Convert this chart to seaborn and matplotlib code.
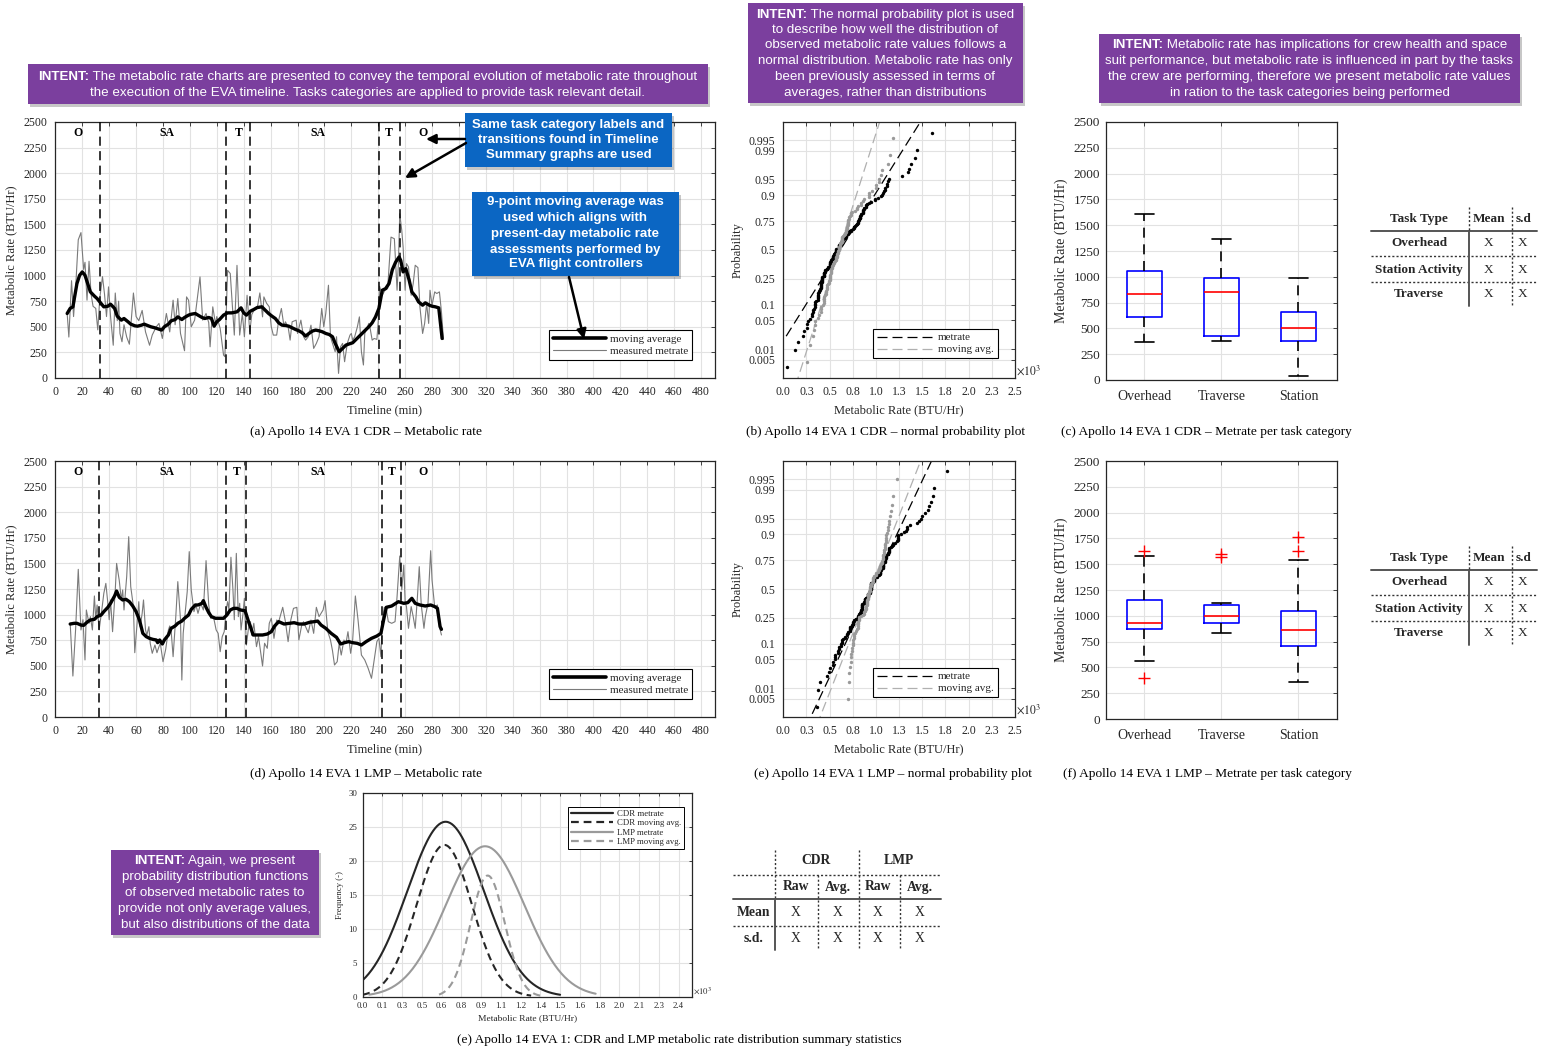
import numpy as np
import pandas as pd
import matplotlib
matplotlib.use("Agg")
import matplotlib.pyplot as plt
import seaborn as sns
from statistics import NormalDist
from matplotlib.patches import Rectangle
from matplotlib.lines import Line2D

# ---------------------------------------------------------------- data
cdr_raw = [(8.75,630),(10,400),(12,950),(13.5,600),(15,870),(17,1350),(19,1420),(21,1060),(22,1130),
           (23.5,760),(25,1140),(26.5,820),(28,700),(30,680),(31.5,470),(33,780),(35,990),(36.5,820),
           (38,600),(39.5,890),(41,600),(43,320),(44.5,830),(46,560),(47,750),(48,435),(49.5,354),
           (51,520),(53,400),(55,330),(58,830),(60,600),(62,560),(64.5,660),(67,450),(70,320),(72,420),
           (75,500),(77,533),(79.5,386),(82.5,630),(85,450),(87.5,760),(89,520),(91,776),(93,435),
           (96,266),(97.5,792),(99,760),(101,500),(103.5,565),(107.5,987),(109.5,565),(112,630),
           (114,540),(115,305),(117,695),(119,530),(120,600),(122.5,484),(125,224),(126,208),(128,1052),
           (130,1020),(132,630),(133,419),(135,1100),(137,419),(139,630),(140.5,403),(142.5,808),
           (144.5,451),(146,620),(148,670),(150,679),(152,831),(154,597),(155,792),(157,730),(159,695),
           (160.5,500),(162,419),(164.5,419),(166,565),(168,679),(170,500),(171,549),(173,500),
           (174.5,370),(176,549),(179,565),(180,435),(182.5,565),(184.5,403),(186,370),(188,403),
           (190,516),(192,289),(194,338),(196,403),(198,679),(199.5,500),(201,630),(203,906),(204.5,403),
           (206,338),(208,256),(209,403),(210.5,45),(212,305),(213.5,338),(215,159),(217,338),(219,419),
           (220,435),(221,370),(222.5,403),(224.5,500),(226,597),(227.5,256),(229,127),(230,435),
           (231,468),(233,533),(234,484),(235.5,370),(237,386),(239,377),(240,549),(241,896),(243,808),
           (245,857),(247,873),(249.5,1376),(252,1360),(254,857),(255,1117),(256,1604),(257.5,1441),
           (258.5,1279),(260,857),(261,1117),(262.5,1085),(264.5,808),(266,922),(267.5,1101),
           (269.5,1078),(271,695),(273,435),(274.5,533),(276,727),(277.5,533),(278.5,857),(280,711),
           (282,841),(283.5,825),(285.5,841),(287,646),(288.5,377)]
cdr_avg = [(8.75,630),(11,680),(13,695),(14.5,808),(16,922),(18,1003),(20,1036),(22,1003),(24,922),
           (26,841),(29,800),(31,776),(34,727),(36,695),(39,701),(41,721),(44,680),(46,604),(49,565),
           (51,581),(54,549),(56,526),(59,510),(61,506),(64,516),(66,526),(69,510),(71,500),(74,490),
           (76,481),(79,468),(81,500),(84,526),(86,558),(89,571),(91,597),(94,571),(96,591),(99,614),
           (101,623),(104,630),(106,614),(109,591),(111,581),(114,591),(116,581),(118,506),(120,549),
           (122,571),(125,614),(128,636),(131,636),(135,646),(138,685),(140,636),(142,614),(145,653),
           (147.5,669),(150,688),(153.5,695),(156,662),(158.5,630),(161,604),(163.5,581),(166,539),
           (168.5,516),(171,513),(173.5,506),(176,490),(178.5,474),(181,461),(183.5,442),(186,409),
           (188.5,435),(191,458),(193.5,468),(196,461),(198.5,451),(201,435),(203.5,425),(206,403),
           (208,338),(211,256),(213.5,289),(216,321),(218,331),(221,344),(223,370),(226,409),(228,435),
           (230.5,468),(233,500),(235.5,539),(238,597),(240.5,679),(243,857),(245.5,873),(248,922),
           (250.5,1058),(253,1133),(255.5,1182),(256.7,1149),(258.5,1036),(260.5,1068),(263,955),
           (265,841),(268,792),(270,743),(273,711),(275,734),(278,711),(280,701),(282.5,695),(285,685),
           (287.5,386)]
lmp_raw = [(11,915),(13,400),(15,850),(17,1442),(19,850),(20.5,950),(22,557),(23,1045),(25,915),(26,980),
           (27.5,850),(29,1182),(30,950),(31,1094),(32.5,850),(34.5,1045),(36,1208),(37.5,1305),(39,1110),
           (40,950),(41,1143),(42.5,833),(44.5,1240),(45.5,1500),(47.5,1331),(49,1143),(50,1240),(51,1045),
           (53,1370),(54.5,1761),(56,1273),(58,1078),(59,628),(60.5,882),(62,1126),(63,882),(64.5,1012),
           (65.5,1143),(67,850),(68,801),(69.5,882),(70.5,719),(72,622),(74,703),(75.5,628),(77,687),
           (78,719),(80,540),(82,661),(84,850),(85,889),(86,850),(87.5,589),(89.5,980),(91,1322),(93,950),
           (94,361),(95,817),(96,950),(98,1224),(99.5,1615),(101,1240),(103,1029),(104.5,1094),(106,1012),
           (108,1110),(110,1045),(112,1527),(114,1094),(115.5,964),(117.5,980),(119.5,850),(121,817),
           (122.5,638),(124,784),(125.5,833),(127,1045),(128,1126),(129,1051),(130.5,1560),(132,1240),
           (133,950),(134.5,1598),(136,980),(137,1110),(138,850),(139.5,1012),(140.5,1159),(142,703),
           (144,915),(145,931),(146,801),(147.5,915),(149.5,687),(151,785),(154,498),(155.5,720),
           (157.5,671),(159,915),(160.5,964),(162.5,768),(164.5,947),(166,931),(169,1071),(171,931),
           (173,736),(175,947),(177,1061),(179.5,1071),(181,752),(183,889),(184.5,931),(186,882),(188,823),
           (190,947),(192,817),(194,1071),(196,980),(199,1045),(200.5,1136),(202.5,833),(204.5,752),
           (206,648),(207.5,508),(209.5,540),(211,719),(212.5,605),(214.5,752),(216,719),(217.5,833),
           (219.5,622),(221,752),(223,1182),(225,947),(227.5,605),(230,557),(232.5,476),(235,378),
           (237,557),(239,736),(240.5,768),(242,589),(243,947),(244.5,1071),(246,1051),(247.5,931),
           (250,915),(252.5,931),(254,1175),(256,1572),(257.5,1240),(259,1484),(260,1126),(261,1078),
           (262.5,866),(264.5,1078),(266,980),(267.5,866),(269,1143),(270.5,1468),(272,1094),(274,866),
           (275,980),(277,1110),(279,1624),(280,1338),(282,1071),(284,1094),(285.5,882),(287,801)]
lmp_avg = [(11,908),(14,915),(16,915),(19,898),(21,895),(24,931),(26,947),(29,954),(31,980),(34,996),
           (36,1029),(39,1071),(41,1110),(44,1182),(45.5,1230),(47.5,1169),(50,1143),(52.5,1149),
           (55,1126),(57.5,1084),(60,1029),(62.5,947),(65,817),(67.5,785),(70,768),(72.5,758),(75,752),
           (76,726),(77.5,752),(79.5,713),(81,752),(84,801),(86,866),(89,889),(91,915),(94,937),(96,964),
           (99,996),(101,1051),(104,1094),(106,1094),(109,1110),(110,1136),(112,1071),(114,1019),
           (116,980),(119,964),(121,964),(125,964),(127.5,996),(130,1045),(132.5,1061),(135,1061),
           (137.5,1045),(141,1038),(144,915),(145,882),(147,801),(150,801),(154,801),(157.5,810),
           (160.5,833),(163,889),(166,931),(170,908),(174,915),(177.5,921),(181,908),(185,908),(189,925),
           (192.5,931),(195,937),(197.5,898),(201,866),(205,817),(209,778),(212,713),(215,726),(218,736),
           (221,726),(224.5,719),(227.5,703),(231,736),(235,768),(239,791),(242,817),(244,947),(246,1071),
           (250,1084),(255,1126),(259,1110),(262,1117),(265,1159),(267.5,1110),(271,1094),(275,1084),
           (279,1094),(282,1078),(284,1061),(286,882),(287,856)]

cdr_bounds = [33, 127, 145, 240.5, 256.5]
lmp_bounds = [32.2, 126.8, 141.6, 243, 256.8]
phase_labels = ["O", "SA", "T", "SA", "T", "O"]
cdr_phase_x = [17, 83, 136.5, 195.5, 248, 273]
lmp_phase_x = [16.7, 83, 134.5, 195.5, 250, 273]

npp_probs = [0.005, 0.01, 0.05, 0.1, 0.25, 0.5, 0.75, 0.9, 0.95, 0.99, 0.995]
npp_xlabels = ["0.0", "0.3", "0.5", "0.8", "1.0", "1.3", "1.5", "1.8", "2.0", "2.3", "2.5"]

box_categories = ["Overhead", "Traverse", "Station"]
cdr_whislo = [365, 374, 39]
cdr_q1 = [613, 423, 377]
cdr_med = [835, 848, 503]
cdr_q3 = [1055, 987, 658]
cdr_whishi = [1610, 1368, 984]
cdr_fliers = [[], [], []]
lmp_whislo = [561, 832, 355]
lmp_q1 = [868, 932, 706]
lmp_med = [929, 1000, 861]
lmp_q3 = [1155, 1100, 1042]
lmp_whishi = [1580, 1126, 1539]
lmp_fliers = [[1632, 394], [1600, 1571], [1768, 1632]]

task_rows = ["Overhead", "Station Activity", "Traverse"]
task_cols = ["Task Type", "Mean", "s.d"]

dist_names = ["CDR metrate", "CDR moving avg.", "LMP metrate", "LMP moving avg."]
dist_mean = [0.63, 0.62, 0.93, 0.95]
dist_sd = [0.29, 0.21, 0.30, 0.13]
dist_peak = [25.7, 22.3, 22.1, 17.8]
dist_lo = [0.0, 0.0, 0.05, 0.58]
dist_hi = [1.50, 1.28, 1.77, 1.35]
dist_colors = ["#262626", "#262626", "#9a9a9a", "#9a9a9a"]
dist_dashed = [False, True, False, True]
dist_xlabels = ["0.0", "0.1", "0.3", "0.5", "0.6", "0.8", "0.9", "1.1", "1.2", "1.4", "1.5",
                "1.6", "1.8", "2.0", "2.1", "2.3", "2.4"]

# ---------------------------------------------------------------- setup
W, H = 1541, 1050
sns.set_theme(style="white")
plt.rcParams['font.family'] = ['Liberation Serif', 'DejaVu Serif']
plt.rcParams['mathtext.fontset'] = 'stix'
plt.rcParams['axes.unicode_minus'] = False
TXT = '#262626'
fig = plt.figure(figsize=(W / 100, H / 100), dpi=100)
fig.patch.set_facecolor('white')


def ax_px(x0, y0, x1, y1):
    return fig.add_axes([x0 / W, 1 - y1 / H, (x1 - x0) / W, (y1 - y0) / H])


def style_axes(ax, labelsize=8, pad=5):
    ax.tick_params(direction='in', top=True, right=True, length=3, width=0.6,
                   labelsize=labelsize, colors=TXT, pad=pad)
    for s in ax.spines.values():
        s.set_visible(True)
        s.set_color(TXT)
        s.set_linewidth(0.9)
    ax.grid(True, color='#e2e2e2', lw=0.8)
    ax.set_axisbelow(True)


def draw_timeline(ax, raw, avg, bounds, phase_x):
    rt, rv = zip(*raw)
    mt, mv = zip(*avg)
    sns.lineplot(x=list(rt), y=list(rv), ax=ax, color='#7a7a7a', lw=0.8, sort=False, estimator=None)
    sns.lineplot(x=list(mt), y=list(mv), ax=ax, color='black', lw=2.4, sort=False, estimator=None)
    for b in bounds:
        ax.axvline(b, color='black', lw=1.1, ls=(0, (6, 3.5)), zorder=3)
    for x, lab in zip(phase_x, phase_labels):
        ax.text(x, 2390, lab, ha='center', va='center', fontsize=8.5, fontweight='bold', color='black')
    ax.set_xlim(0, 490)
    ax.set_ylim(0, 2500)
    ax.set_xticks(range(0, 481, 20))
    ax.set_yticks(range(0, 2501, 250))
    style_axes(ax, labelsize=8.5, pad=6)
    ax.set_xlabel('Timeline (min)', fontsize=9, color=TXT, labelpad=4)
    ax.set_ylabel('Metabolic Rate (BTU/Hr)', fontsize=9, color=TXT, labelpad=4)
    handles = [Line2D([], [], color='black', lw=2.6), Line2D([], [], color='#7a7a7a', lw=0.8)]
    leg = ax.legend(handles, ['moving average', 'measured metrate'], loc='lower right',
                    bbox_to_anchor=(0.975, 0.05), fontsize=8, frameon=True, fancybox=False,
                    edgecolor='black', framealpha=1, handlelength=4.8, borderpad=0.35,
                    labelspacing=0.2, handletextpad=0.4)
    leg.get_frame().set_linewidth(0.8)


ND = NormalDist()


def draw_normplot(ax, raw, avg):
    for data, col, lcol in [(raw, 'black', 'black'), (avg, '#9a9a9a', '#b0b0b0')]:
        vals = np.sort(np.array([v for _, v in data], float))
        n = len(vals)
        z = np.array([ND.inv_cdf((i + 0.5) / n) for i in range(n)])
        sns.scatterplot(x=vals, y=z, ax=ax, color=col, s=6, linewidth=0, zorder=3)
        q1, q3 = np.percentile(vals, [25, 75])
        slope = (ND.inv_cdf(.75) - ND.inv_cdf(.25)) / (q3 - q1)
        xs = np.array([-1000., 3500.])
        ax.plot(xs, ND.inv_cdf(.25) + slope * (xs - q1), color=lcol, lw=0.9, ls=(0, (8, 4)), zorder=2)
    ax.set_xlim(0, 2500)
    ax.set_ylim(-3, 3)
    ax.set_xticks(np.arange(0, 2501, 250))
    ax.set_xticklabels(npp_xlabels)
    ax.set_yticks([ND.inv_cdf(p) for p in npp_probs])
    ax.set_yticklabels([f'{p:g}' for p in npp_probs])
    style_axes(ax, labelsize=8.5, pad=6)
    ax.set_xlabel('Metabolic Rate (BTU/Hr)', fontsize=9, color=TXT, labelpad=4)
    ax.set_ylabel('Probability', fontsize=9, color=TXT, labelpad=3)
    ax.text(1.005, 0.03, r'$\times10^3$', transform=ax.transAxes, fontsize=8.5, color=TXT,
            ha='left', va='center')
    handles = [Line2D([], [], color='black', lw=0.9, ls=(0, (8, 4))),
               Line2D([], [], color='#b0b0b0', lw=0.9, ls=(0, (8, 4)))]
    leg = ax.legend(handles, ['metrate', 'moving avg.'], loc='lower right',
                    bbox_to_anchor=(0.95, 0.055), fontsize=8, frameon=True, fancybox=False,
                    edgecolor='black', framealpha=1, handlelength=5.0, borderpad=0.35,
                    labelspacing=0.2, handletextpad=0.5)
    leg.get_frame().set_linewidth(0.8)


def draw_box(ax, whislo, q1, med, q3, whishi, fliers):
    stats = [dict(whislo=a, q1=b, med=c, q3=d, whishi=e, fliers=f, label=l)
             for a, b, c, d, e, f, l in zip(whislo, q1, med, q3, whishi, fliers, box_categories)]
    ax.bxp(stats, positions=[1, 2, 3], widths=0.45, capwidths=0.25,
           boxprops=dict(color='blue', lw=1.2),
           medianprops=dict(color='red', lw=1.2),
           whiskerprops=dict(color='black', lw=1.2, ls=(0, (6, 4))),
           capprops=dict(color='black', lw=1.2),
           flierprops=dict(marker='+', markeredgecolor='red', markersize=8, markeredgewidth=1.0,
                           linestyle='none'))
    ax.set_xlim(0.5, 3.5)
    ax.set_ylim(0, 2500)
    ax.set_yticks(range(0, 2501, 250))
    style_axes(ax, labelsize=9.5, pad=4)
    ax.tick_params(axis='x', labelsize=10, pad=7)
    ax.set_ylabel('Metabolic Rate (BTU/Hr)', fontsize=10, color=TXT, labelpad=4)


def draw_dist(ax):
    for name, m, sd, pk, lo, hi, col, dsh in zip(dist_names, dist_mean, dist_sd, dist_peak,
                                                  dist_lo, dist_hi, dist_colors, dist_dashed):
        xs = np.linspace(lo, hi, 200)
        ys = pk * np.exp(-0.5 * ((xs - m) / sd) ** 2)
        sns.lineplot(x=xs, y=ys, ax=ax, color=col, lw=1.5, sort=False, estimator=None,
                     linestyle=(0, (3.5, 2.2)) if dsh else '-')
    ax.set_xlim(0, 2.5)
    ax.set_ylim(0, 30)
    ax.set_xticks(np.arange(17) * 0.15)
    ax.set_xticklabels(dist_xlabels)
    ax.set_yticks(range(0, 31, 5))
    style_axes(ax, labelsize=6.3, pad=4)
    ax.tick_params(length=2.5)
    ax.set_xlabel('Metabolic Rate (BTU/Hr)', fontsize=6.8, color=TXT, labelpad=3)
    ax.set_ylabel('Frequency (-)', fontsize=6.3, color=TXT, labelpad=3)
    ax.text(1.003, 0.03, r'$\times10^3$', transform=ax.transAxes, fontsize=6.3, color=TXT,
            ha='left', va='center')
    handles = [Line2D([], [], color=c, lw=1.6, ls=(0, (3.5, 2.2)) if d else '-')
               for c, d in zip(dist_colors, dist_dashed)]
    leg = ax.legend(handles, dist_names, loc='upper right', bbox_to_anchor=(0.99, 0.95),
                    fontsize=6.3, frameon=True, fancybox=False, edgecolor='black', framealpha=1,
                    handlelength=4.8, borderpad=0.3, labelspacing=0.15, handletextpad=0.5)
    leg.get_frame().set_linewidth(0.7)


# ---------------------------------------------------------------- panels
ax_a = ax_px(55.4, 122, 714.5, 378)
draw_timeline(ax_a, cdr_raw, cdr_avg, cdr_bounds, cdr_phase_x)
ax_d = ax_px(55.4, 461, 714.5, 717)
draw_timeline(ax_d, lmp_raw, lmp_avg, lmp_bounds, lmp_phase_x)

ax_b = ax_px(783.3, 122, 1015, 378)
draw_normplot(ax_b, cdr_raw, cdr_avg)
ax_e = ax_px(783.3, 461, 1015, 717)
draw_normplot(ax_e, lmp_raw, lmp_avg)

ax_c = ax_px(1105.7, 122, 1337, 380)
draw_box(ax_c, cdr_whislo, cdr_q1, cdr_med, cdr_q3, cdr_whishi, cdr_fliers)
ax_f = ax_px(1105.7, 461, 1337, 719)
draw_box(ax_f, lmp_whislo, lmp_q1, lmp_med, lmp_q3, lmp_whishi, lmp_fliers)

ax_g = ax_px(362.7, 792.5, 691.7, 996.7)
draw_dist(ax_g)

# ---------------------------------------------------------------- overlay (pixel coords)
ov = fig.add_axes([0, 0, 1, 1], zorder=10)
ov.set_xlim(0, W)
ov.set_ylim(H, 0)
ov.axis('off')
ov.patch.set_alpha(0)

captions = [(366, 432, "(a) Apollo 14 EVA 1 CDR \u2013 Metabolic rate"),
            (886, 432, "(b) Apollo 14 EVA 1 CDR \u2013 normal probability plot"),
            (1206, 432, "(c) Apollo 14 EVA 1 CDR \u2013 Metrate per task category"),
            (366, 774, "(d) Apollo 14 EVA 1 LMP \u2013 Metabolic rate"),
            (893, 774, "(e) Apollo 14 EVA 1 LMP \u2013 normal probability plot"),
            (1208, 774, "(f) Apollo 14 EVA 1 LMP \u2013 Metrate per task category"),
            (679, 1040, "(e) Apollo 14 EVA 1: CDR and LMP metabolic rate distribution summary statistics")]
for x, y, t in captions:
    ov.text(x, y, t, ha='center', va='center', fontsize=9.6, color='black')


def hline(x0, x1, y, dotted=False, lw=1.0):
    ov.plot([x0, x1], [y, y], color='#333333' if dotted else '#555555', lw=lw,
            ls=(0, (1.5, 1.5)) if dotted else '-')


def vline(x, y0, y1, dotted=False, lw=1.0):
    ov.plot([x, x], [y0, y1], color='#333333' if dotted else '#555555', lw=lw,
            ls=(0, (1.5, 1.5)) if dotted else '-')


# task tables
TS = 9.5
for off in (0, 339):
    ov.text(1419, 219 + off, task_cols[0], ha='center', va='center', fontsize=TS, fontweight='bold')
    ov.text(1489, 219 + off, task_cols[1], ha='center', va='center', fontsize=TS, fontweight='bold')
    ov.text(1524, 219 + off, task_cols[2], ha='center', va='center', fontsize=TS, fontweight='bold')
    for ry, name in zip([243, 270, 294], task_rows):
        ov.text(1419, ry + off, name, ha='center', va='center', fontsize=TS, fontweight='bold')
        ov.text(1489, ry + off, 'X', ha='center', va='center', fontsize=TS)
        ov.text(1523, ry + off, 'X', ha='center', va='center', fontsize=TS)
    hline(1371, 1537, 231 + off, lw=1.4)
    hline(1371, 1537, 256 + off, dotted=True)
    hline(1371, 1537, 282 + off, dotted=True)
    vline(1469, 231 + off, 306 + off, lw=1.4)
    vline(1469, 207 + off, 231 + off, dotted=True)
    vline(1512, 207 + off, 306 + off, dotted=True)

# summary table
SS = 9.8
for x, t in [(816, "CDR"), (899, "LMP")]:
    ov.text(x, 861, t, ha='center', va='center', fontsize=SS, fontweight='bold')
for x, t in [(796, "Raw"), (838, "Avg."), (878, "Raw"), (920, "Avg.")]:
    ov.text(x, 887, t, ha='center', va='center', fontsize=SS, fontweight='bold')
for y, t in [(912, "Mean"), (939, "s.d.")]:
    ov.text(754, y, t, ha='center', va='center', fontsize=SS, fontweight='bold')
    for x in [796, 838, 878, 920]:
        ov.text(x, y, 'X', ha='center', va='center', fontsize=SS)
hline(733, 941, 875, dotted=True)
hline(733, 941, 899, lw=1.4)
hline(733, 941, 926, dotted=True)
vline(775, 850, 899, dotted=True)
vline(775, 899, 950, lw=1.4)
vline(818, 875, 950, dotted=True)
vline(859, 850, 950, dotted=True)
vline(900, 875, 950, dotted=True)

# note boxes
PURPLE = '#7b3f9e'
BLUE = '#0b66c3'
renderer = fig.canvas.get_renderer()


def box(x0, y0, x1, y1, color):
    ov.add_patch(Rectangle((x0 + 2, y0 + 3), x1 - x0, y1 - y0, facecolor='#000000', alpha=0.22,
                           lw=0, zorder=1))
    ov.add_patch(Rectangle((x0, y0), x1 - x0, y1 - y0, facecolor=color, lw=0, zorder=2))


def rich_line(xc, y, parts, size):
    objs = []
    for txt, wt in parts:
        t = ov.text(0, y, txt, ha='left', va='center', fontsize=size, fontweight=wt,
                    color='white', family=['Liberation Sans', 'DejaVu Sans'], zorder=3)
        objs.append(t)
    widths = [t.get_window_extent(renderer).width for t in objs]
    x = xc - sum(widths) / 2
    for t, w in zip(objs, widths):
        t.set_x(x)
        x += w


def intent_box(x0, y0, x1, y1, lines, ys, size=9.6):
    box(x0, y0, x1, y1, PURPLE)
    xc = (x0 + x1) / 2
    for i, (ln, y) in enumerate(zip(lines, ys)):
        if i == 0 and ln.startswith("INTENT:"):
            rich_line(xc, y, [("INTENT:", 'bold'), (ln[7:], 'normal')], size)
        else:
            rich_line(xc, y, [(ln, 'normal')], size)


intent_box(28, 64, 708, 104,
           ["INTENT: The metabolic rate charts are presented to convey the temporal evolution of metabolic rate throughout",
            "the execution of the EVA timeline. Tasks categories are applied to provide task relevant detail."],
           [77, 93])
intent_box(748, 3, 1023, 103,
           ["INTENT: The normal probability plot is used",
            "to describe how well the distribution of",
            "observed metabolic rate values follows a",
            "normal distribution. Metabolic rate has only",
            "been previously assessed in terms of",
            "averages, rather than distributions"],
           [15, 30, 45, 61, 77, 93])
intent_box(1099, 34, 1520, 103,
           ["INTENT: Metabolic rate has implications for crew health and space",
            "suit performance, but metabolic rate is influenced in part by the tasks",
            "the crew are performing, therefore we present metabolic rate values",
            "in ration to the task categories being performed"],
           [45, 61, 77, 93])
intent_box(111, 850, 319, 935,
           ["INTENT: Again, we present",
            "probability distribution functions",
            "of observed metabolic rates to",
            "provide not only average values,",
            "but also distributions of the data"],
           [861, 877, 893, 909, 925])

box(465, 113, 672, 167, BLUE)
for ln, y in zip(["Same task category labels and", "transitions found in Timeline",
                  "Summary graphs are used"], [125, 140, 155]):
    rich_line(568.5, y, [(ln, 'bold')], 9.5)
box(472, 192, 679, 276, BLUE)
for ln, y in zip(["9-point moving average was", "used which aligns with", "present-day metabolic rate",
                  "assessments performed by", "EVA flight controllers"], [202, 218, 234, 250, 264]):
    rich_line(575.5, y, [(ln, 'bold')], 9.5)

arrow = dict(arrowstyle='-|>', color='black', lw=1.8, mutation_scale=14, shrinkA=0, shrinkB=0)
ov.annotate('', xy=(426, 139), xytext=(465, 139), arrowprops=arrow)
ov.annotate('', xy=(405, 178), xytext=(466, 143), arrowprops=arrow)
ov.annotate('', xy=(584, 339), xytext=(569, 277), arrowprops=arrow)

fig.savefig('out.png', dpi=100, facecolor='white')
